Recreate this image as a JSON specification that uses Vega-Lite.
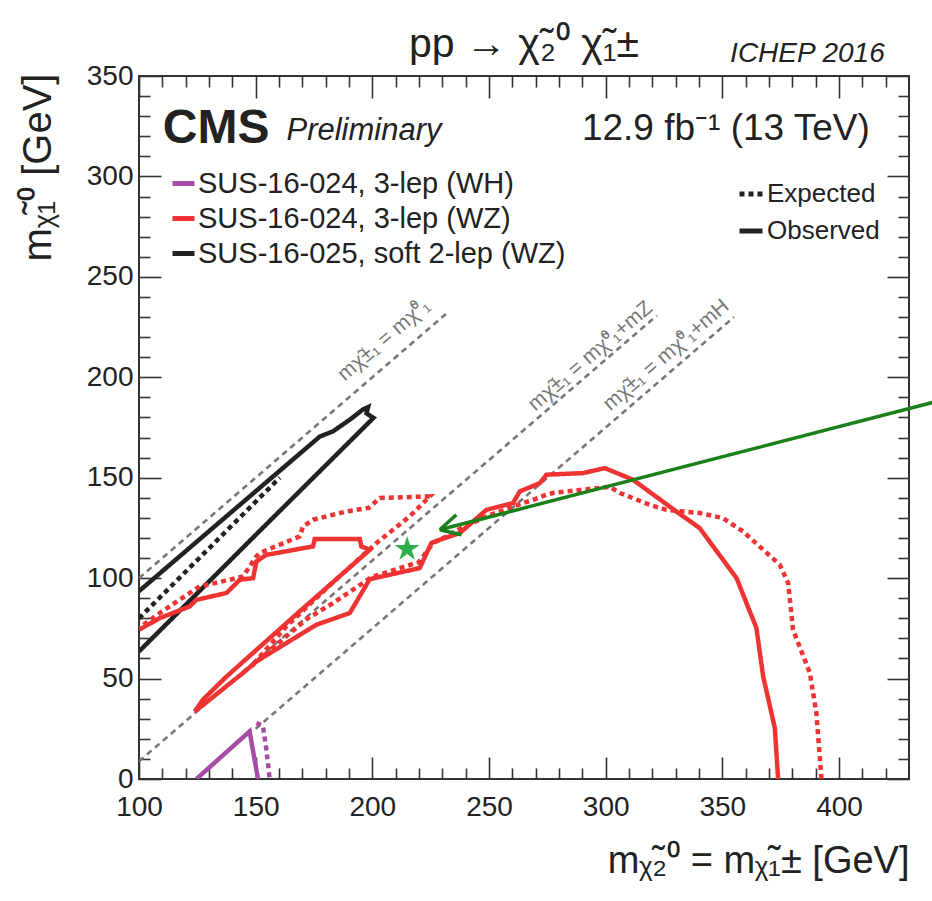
{
  "$schema": "https://vega.github.io/schema/vega-lite/v6.json",
  "width": 770,
  "height": 703,
  "autosize": {"type": "none"},
  "padding": {"left": 139, "top": 76, "right": 23, "bottom": 122},
  "background": "white",
  "config": {
    "view": {"stroke": "#333333", "strokeWidth": 2},
    "font": "Liberation Sans",
    "axis": {"grid": false, "domain": false, "labelFont": "Liberation Sans", "titleFont": "Liberation Sans", "labelColor": "#222222", "titleColor": "#222222", "tickColor": "#333333", "tickWidth": 1.6, "labelFlush": false, "labelOverlap": false},
    "legend": {"labelFont": "Liberation Sans", "labelColor": "#222222"}
  },
  "datasets": {
    "diag": [
      {"id": "eq", "x": 100, "y": 100}, {"id": "eq", "x": 232, "y": 232},
      {"id": "mz", "x": 100, "y": 8.8}, {"id": "mz", "x": 322, "y": 230.8},
      {"id": "mh", "x": 150, "y": 25}, {"id": "mh", "x": 355, "y": 230}
    ],
    "diaglabels": [
      {"text": "mχ̃±₁ = mχ̃⁰₁", "x": 205, "y": 218.5},
      {"text": "mχ̃±₁ = mχ̃⁰₁+mZ", "x": 293.5, "y": 210.5},
      {"text": "mχ̃±₁ = mχ̃⁰₁+mH", "x": 326, "y": 211}
    ],
    "curves": [
      {"id": "pu_o", "analysis": "SUS-16-024, 3-lep (WH)", "type": "Observed", "o": 1, "x": 124.6, "y": 0},
      {"id": "pu_o", "analysis": "SUS-16-024, 3-lep (WH)", "type": "Observed", "o": 2, "x": 147.4, "y": 23.7},
      {"id": "pu_o", "analysis": "SUS-16-024, 3-lep (WH)", "type": "Observed", "o": 3, "x": 151, "y": 0},
      {"id": "pu_e", "analysis": "SUS-16-024, 3-lep (WH)", "type": "Expected", "o": 1, "x": 150.3, "y": 27.9},
      {"id": "pu_e", "analysis": "SUS-16-024, 3-lep (WH)", "type": "Expected", "o": 2, "x": 153.1, "y": 26.5},
      {"id": "pu_e", "analysis": "SUS-16-024, 3-lep (WH)", "type": "Expected", "o": 3, "x": 154.6, "y": 14.6},
      {"id": "pu_e", "analysis": "SUS-16-024, 3-lep (WH)", "type": "Expected", "o": 4, "x": 156, "y": 0},

      {"id": "bk_o", "analysis": "SUS-16-025, soft 2-lep (WZ)", "type": "Observed", "o": 1, "x": 100, "y": 93.5},
      {"id": "bk_o", "analysis": "SUS-16-025, soft 2-lep (WZ)", "type": "Observed", "o": 2, "x": 140, "y": 133.3},
      {"id": "bk_o", "analysis": "SUS-16-025, soft 2-lep (WZ)", "type": "Observed", "o": 3, "x": 177.5, "y": 170.5},
      {"id": "bk_o", "analysis": "SUS-16-025, soft 2-lep (WZ)", "type": "Observed", "o": 4, "x": 183, "y": 173},
      {"id": "bk_o", "analysis": "SUS-16-025, soft 2-lep (WZ)", "type": "Observed", "o": 5, "x": 190.5, "y": 179},
      {"id": "bk_o", "analysis": "SUS-16-025, soft 2-lep (WZ)", "type": "Observed", "o": 6, "x": 196, "y": 184},
      {"id": "bk_o", "analysis": "SUS-16-025, soft 2-lep (WZ)", "type": "Observed", "o": 7, "x": 198.2, "y": 185.2},
      {"id": "bk_o", "analysis": "SUS-16-025, soft 2-lep (WZ)", "type": "Observed", "o": 8, "x": 197.5, "y": 182},
      {"id": "bk_o", "analysis": "SUS-16-025, soft 2-lep (WZ)", "type": "Observed", "o": 9, "x": 200.5, "y": 179.8},
      {"id": "bk_o", "analysis": "SUS-16-025, soft 2-lep (WZ)", "type": "Observed", "o": 10, "x": 150, "y": 121.5},
      {"id": "bk_o", "analysis": "SUS-16-025, soft 2-lep (WZ)", "type": "Observed", "o": 11, "x": 100, "y": 63.5},
      {"id": "bk_e", "analysis": "SUS-16-025, soft 2-lep (WZ)", "type": "Expected", "o": 1, "x": 100, "y": 80},
      {"id": "bk_e", "analysis": "SUS-16-025, soft 2-lep (WZ)", "type": "Expected", "o": 2, "x": 160.3, "y": 150},

      {"id": "rd_o", "analysis": "SUS-16-024, 3-lep (WZ)", "type": "Observed", "o": 1, "x": 373.9, "y": 0},
      {"id": "rd_o", "analysis": "SUS-16-024, 3-lep (WZ)", "type": "Observed", "o": 2, "x": 372.5, "y": 25.4},
      {"id": "rd_o", "analysis": "SUS-16-024, 3-lep (WZ)", "type": "Observed", "o": 3, "x": 367.5, "y": 51.1},
      {"id": "rd_o", "analysis": "SUS-16-024, 3-lep (WZ)", "type": "Observed", "o": 4, "x": 364.6, "y": 75.2},
      {"id": "rd_o", "analysis": "SUS-16-024, 3-lep (WZ)", "type": "Observed", "o": 5, "x": 356.1, "y": 100},
      {"id": "rd_o", "analysis": "SUS-16-024, 3-lep (WZ)", "type": "Observed", "o": 6, "x": 340.3, "y": 124.9},
      {"id": "rd_o", "analysis": "SUS-16-024, 3-lep (WZ)", "type": "Observed", "o": 7, "x": 330.3, "y": 133.2},
      {"id": "rd_o", "analysis": "SUS-16-024, 3-lep (WZ)", "type": "Observed", "o": 8, "x": 311.7, "y": 149},
      {"id": "rd_o", "analysis": "SUS-16-024, 3-lep (WZ)", "type": "Observed", "o": 9, "x": 299.6, "y": 154.8},
      {"id": "rd_o", "analysis": "SUS-16-024, 3-lep (WZ)", "type": "Observed", "o": 10, "x": 290.3, "y": 152.3},
      {"id": "rd_o", "analysis": "SUS-16-024, 3-lep (WZ)", "type": "Observed", "o": 11, "x": 274.6, "y": 151.5},
      {"id": "rd_o", "analysis": "SUS-16-024, 3-lep (WZ)", "type": "Observed", "o": 12, "x": 271.8, "y": 147.3},
      {"id": "rd_o", "analysis": "SUS-16-024, 3-lep (WZ)", "type": "Observed", "o": 13, "x": 263.2, "y": 143.2},
      {"id": "rd_o", "analysis": "SUS-16-024, 3-lep (WZ)", "type": "Observed", "o": 14, "x": 260.3, "y": 137.4},
      {"id": "rd_o", "analysis": "SUS-16-024, 3-lep (WZ)", "type": "Observed", "o": 15, "x": 248.9, "y": 134},
      {"id": "rd_o", "analysis": "SUS-16-024, 3-lep (WZ)", "type": "Observed", "o": 16, "x": 237.4, "y": 122.4},
      {"id": "rd_o", "analysis": "SUS-16-024, 3-lep (WZ)", "type": "Observed", "o": 17, "x": 228.9, "y": 119.1},
      {"id": "rd_o", "analysis": "SUS-16-024, 3-lep (WZ)", "type": "Observed", "o": 18, "x": 225.3, "y": 117.5},
      {"id": "rd_o", "analysis": "SUS-16-024, 3-lep (WZ)", "type": "Observed", "o": 19, "x": 220.3, "y": 105},
      {"id": "rd_o", "analysis": "SUS-16-024, 3-lep (WZ)", "type": "Observed", "o": 20, "x": 198.9, "y": 99.5},
      {"id": "rd_o", "analysis": "SUS-16-024, 3-lep (WZ)", "type": "Observed", "o": 21, "x": 190.3, "y": 82.6},
      {"id": "rd_o", "analysis": "SUS-16-024, 3-lep (WZ)", "type": "Observed", "o": 22, "x": 176, "y": 76.8},
      {"id": "rd_o", "analysis": "SUS-16-024, 3-lep (WZ)", "type": "Observed", "o": 23, "x": 163.2, "y": 67.7},
      {"id": "rd_o", "analysis": "SUS-16-024, 3-lep (WZ)", "type": "Observed", "o": 24, "x": 150.3, "y": 58.5},
      {"id": "rd_o", "analysis": "SUS-16-024, 3-lep (WZ)", "type": "Observed", "o": 25, "x": 144.6, "y": 52.8},
      {"id": "rd_o", "analysis": "SUS-16-024, 3-lep (WZ)", "type": "Observed", "o": 26, "x": 123.9, "y": 33.6},
      {"id": "rd_o", "analysis": "SUS-16-024, 3-lep (WZ)", "type": "Observed", "o": 27, "x": 127.4, "y": 39.5},
      {"id": "rd_o", "analysis": "SUS-16-024, 3-lep (WZ)", "type": "Observed", "o": 28, "x": 137.5, "y": 51},
      {"id": "rd_o", "analysis": "SUS-16-024, 3-lep (WZ)", "type": "Observed", "o": 29, "x": 168.9, "y": 83.5},
      {"id": "rd_o", "analysis": "SUS-16-024, 3-lep (WZ)", "type": "Observed", "o": 30, "x": 198.9, "y": 114.1},
      {"id": "rd_o", "analysis": "SUS-16-024, 3-lep (WZ)", "type": "Observed", "o": 31, "x": 195.3, "y": 115.8},
      {"id": "rd_o", "analysis": "SUS-16-024, 3-lep (WZ)", "type": "Observed", "o": 32, "x": 194.6, "y": 119.5},
      {"id": "rd_o", "analysis": "SUS-16-024, 3-lep (WZ)", "type": "Observed", "o": 33, "x": 175.3, "y": 119.5},
      {"id": "rd_o", "analysis": "SUS-16-024, 3-lep (WZ)", "type": "Observed", "o": 34, "x": 174.6, "y": 115.8},
      {"id": "rd_o", "analysis": "SUS-16-024, 3-lep (WZ)", "type": "Observed", "o": 35, "x": 154.6, "y": 111.6},
      {"id": "rd_o", "analysis": "SUS-16-024, 3-lep (WZ)", "type": "Observed", "o": 36, "x": 150.3, "y": 108.3},
      {"id": "rd_o", "analysis": "SUS-16-024, 3-lep (WZ)", "type": "Observed", "o": 37, "x": 148.9, "y": 100},
      {"id": "rd_o", "analysis": "SUS-16-024, 3-lep (WZ)", "type": "Observed", "o": 38, "x": 143.2, "y": 99.2},
      {"id": "rd_o", "analysis": "SUS-16-024, 3-lep (WZ)", "type": "Observed", "o": 39, "x": 137.5, "y": 92.6},
      {"id": "rd_o", "analysis": "SUS-16-024, 3-lep (WZ)", "type": "Observed", "o": 40, "x": 124.6, "y": 89.2},
      {"id": "rd_o", "analysis": "SUS-16-024, 3-lep (WZ)", "type": "Observed", "o": 41, "x": 121.7, "y": 85.9},
      {"id": "rd_o", "analysis": "SUS-16-024, 3-lep (WZ)", "type": "Observed", "o": 42, "x": 108.9, "y": 80.1},
      {"id": "rd_o", "analysis": "SUS-16-024, 3-lep (WZ)", "type": "Observed", "o": 43, "x": 100, "y": 74.3},

      {"id": "rd_e", "analysis": "SUS-16-024, 3-lep (WZ)", "type": "Expected", "o": 1, "x": 392.5, "y": 0},
      {"id": "rd_e", "analysis": "SUS-16-024, 3-lep (WZ)", "type": "Expected", "o": 2, "x": 390.3, "y": 32.9},
      {"id": "rd_e", "analysis": "SUS-16-024, 3-lep (WZ)", "type": "Expected", "o": 3, "x": 387.5, "y": 52.8},
      {"id": "rd_e", "analysis": "SUS-16-024, 3-lep (WZ)", "type": "Expected", "o": 4, "x": 380.3, "y": 74.3},
      {"id": "rd_e", "analysis": "SUS-16-024, 3-lep (WZ)", "type": "Expected", "o": 5, "x": 378.2, "y": 97.6},
      {"id": "rd_e", "analysis": "SUS-16-024, 3-lep (WZ)", "type": "Expected", "o": 6, "x": 374.6, "y": 106.7},
      {"id": "rd_e", "analysis": "SUS-16-024, 3-lep (WZ)", "type": "Expected", "o": 7, "x": 358.9, "y": 123.2},
      {"id": "rd_e", "analysis": "SUS-16-024, 3-lep (WZ)", "type": "Expected", "o": 8, "x": 350.3, "y": 129.9},
      {"id": "rd_e", "analysis": "SUS-16-024, 3-lep (WZ)", "type": "Expected", "o": 9, "x": 340.3, "y": 132.4},
      {"id": "rd_e", "analysis": "SUS-16-024, 3-lep (WZ)", "type": "Expected", "o": 10, "x": 326, "y": 134},
      {"id": "rd_e", "analysis": "SUS-16-024, 3-lep (WZ)", "type": "Expected", "o": 11, "x": 318.9, "y": 136.5},
      {"id": "rd_e", "analysis": "SUS-16-024, 3-lep (WZ)", "type": "Expected", "o": 12, "x": 306.1, "y": 142.4},
      {"id": "rd_e", "analysis": "SUS-16-024, 3-lep (WZ)", "type": "Expected", "o": 13, "x": 301.7, "y": 145.5},
      {"id": "rd_e", "analysis": "SUS-16-024, 3-lep (WZ)", "type": "Expected", "o": 14, "x": 277.4, "y": 142.4},
      {"id": "rd_e", "analysis": "SUS-16-024, 3-lep (WZ)", "type": "Expected", "o": 15, "x": 274.6, "y": 141.5},
      {"id": "rd_e", "analysis": "SUS-16-024, 3-lep (WZ)", "type": "Expected", "o": 16, "x": 268.9, "y": 139},
      {"id": "rd_e", "analysis": "SUS-16-024, 3-lep (WZ)", "type": "Expected", "o": 17, "x": 260.3, "y": 135.7},
      {"id": "rd_e", "analysis": "SUS-16-024, 3-lep (WZ)", "type": "Expected", "o": 18, "x": 248.9, "y": 130.7},
      {"id": "rd_e", "analysis": "SUS-16-024, 3-lep (WZ)", "type": "Expected", "o": 19, "x": 237.4, "y": 124.5},
      {"id": "rd_e", "analysis": "SUS-16-024, 3-lep (WZ)", "type": "Expected", "o": 20, "x": 231.8, "y": 120.8},
      {"id": "rd_e", "analysis": "SUS-16-024, 3-lep (WZ)", "type": "Expected", "o": 21, "x": 226, "y": 117.5},
      {"id": "rd_e", "analysis": "SUS-16-024, 3-lep (WZ)", "type": "Expected", "o": 22, "x": 220, "y": 108},
      {"id": "rd_e", "analysis": "SUS-16-024, 3-lep (WZ)", "type": "Expected", "o": 23, "x": 199.6, "y": 100.5},
      {"id": "rd_e", "analysis": "SUS-16-024, 3-lep (WZ)", "type": "Expected", "o": 24, "x": 194, "y": 96},
      {"id": "rd_e", "analysis": "SUS-16-024, 3-lep (WZ)", "type": "Expected", "o": 25, "x": 183, "y": 87.5},
      {"id": "rd_e", "analysis": "SUS-16-024, 3-lep (WZ)", "type": "Expected", "o": 26, "x": 171.7, "y": 79.5},
      {"id": "rd_e", "analysis": "SUS-16-024, 3-lep (WZ)", "type": "Expected", "o": 27, "x": 148, "y": 56},
      {"id": "rd_e", "analysis": "SUS-16-024, 3-lep (WZ)", "type": "Expected", "o": 28, "x": 163.2, "y": 76},
      {"id": "rd_e", "analysis": "SUS-16-024, 3-lep (WZ)", "type": "Expected", "o": 29, "x": 183.2, "y": 98},
      {"id": "rd_e", "analysis": "SUS-16-024, 3-lep (WZ)", "type": "Expected", "o": 30, "x": 201.8, "y": 117.5},
      {"id": "rd_e", "analysis": "SUS-16-024, 3-lep (WZ)", "type": "Expected", "o": 31, "x": 216, "y": 130.7},
      {"id": "rd_e", "analysis": "SUS-16-024, 3-lep (WZ)", "type": "Expected", "o": 32, "x": 224.6, "y": 140.7},
      {"id": "rd_e", "analysis": "SUS-16-024, 3-lep (WZ)", "type": "Expected", "o": 33, "x": 203.2, "y": 139.9},
      {"id": "rd_e", "analysis": "SUS-16-024, 3-lep (WZ)", "type": "Expected", "o": 34, "x": 198.5, "y": 135},
      {"id": "rd_e", "analysis": "SUS-16-024, 3-lep (WZ)", "type": "Expected", "o": 35, "x": 188.9, "y": 133.2},
      {"id": "rd_e", "analysis": "SUS-16-024, 3-lep (WZ)", "type": "Expected", "o": 36, "x": 174.6, "y": 129.1},
      {"id": "rd_e", "analysis": "SUS-16-024, 3-lep (WZ)", "type": "Expected", "o": 37, "x": 170.3, "y": 125.7},
      {"id": "rd_e", "analysis": "SUS-16-024, 3-lep (WZ)", "type": "Expected", "o": 38, "x": 168.9, "y": 120.8},
      {"id": "rd_e", "analysis": "SUS-16-024, 3-lep (WZ)", "type": "Expected", "o": 39, "x": 151.7, "y": 112.5},
      {"id": "rd_e", "analysis": "SUS-16-024, 3-lep (WZ)", "type": "Expected", "o": 40, "x": 150.3, "y": 110.8},
      {"id": "rd_e", "analysis": "SUS-16-024, 3-lep (WZ)", "type": "Expected", "o": 41, "x": 144.6, "y": 100.9},
      {"id": "rd_e", "analysis": "SUS-16-024, 3-lep (WZ)", "type": "Expected", "o": 42, "x": 138.9, "y": 99.2},
      {"id": "rd_e", "analysis": "SUS-16-024, 3-lep (WZ)", "type": "Expected", "o": 43, "x": 126, "y": 95.9},
      {"id": "rd_e", "analysis": "SUS-16-024, 3-lep (WZ)", "type": "Expected", "o": 44, "x": 108.9, "y": 82.6},
      {"id": "rd_e", "analysis": "SUS-16-024, 3-lep (WZ)", "type": "Expected", "o": 45, "x": 100, "y": 75.2}
    ],
    "arrow": [
      {"id": "shaft", "o": 1, "x": 445, "y": 188.9},
      {"id": "shaft", "o": 2, "x": 228.9, "y": 124.1},
      {"id": "head1", "o": 1, "x": 236, "y": 131.6},
      {"id": "head1", "o": 2, "x": 228.9, "y": 124.1},
      {"id": "head2", "o": 1, "x": 238.2, "y": 121.6},
      {"id": "head2", "o": 2, "x": 228.9, "y": 124.1}
    ],
    "star": [{"x": 214.9, "y": 114.5}],
    "maintitle": [{"text": "pp → χ̃₂⁰ χ̃₁±", "x": 265, "y": 359.5}],
    "cms": [{"text": "CMS", "x": 110.2, "y": 316.7}],
    "prelim": [{"text": "Preliminary", "x": 163.2, "y": 318.2}],
    "lumi": [{"text": "12.9 fb⁻¹ (13 TeV)", "x": 413.2, "y": 318.2}],
    "ichep": [{"text": "ICHEP 2016", "x": 419.6, "y": 356.8}]
  },
  "layer": [
    {
      "data": {"name": "diag"},
      "mark": {"type": "line", "color": "#777777", "strokeWidth": 2.6, "strokeDash": [6, 4.5], "clip": true},
      "encoding": {
        "x": {"field": "x", "type": "quantitative", "scale": {"domain": [100, 430], "nice": false, "zero": false},
          "axis": {"orient": "bottom", "values": [100, 150, 200, 250, 300, 350, 400], "ticks": false, "labelFontSize": 28, "labelPadding": 14,
            "title": "mᵪ̃₂⁰ = mᵪ̃₁± [GeV]", "titleFontSize": 38, "titleFontWeight": "normal", "titleAlign": "right", "titleBaseline": "alphabetic", "titleX": 770, "titleY": 93}},
        "y": {"field": "y", "type": "quantitative", "scale": {"domain": [0, 350], "nice": false, "zero": false},
          "axis": {"orient": "left", "values": [0, 50, 100, 150, 200, 250, 300, 350], "ticks": false, "labelFontSize": 28, "labelPadding": 6, "labelBaseline": "middle",
            "title": "mᵪ̃₁⁰ [GeV]", "titleFontSize": 40, "titleFontWeight": "normal", "titleAngle": 270, "titleAlign": "right", "titleBaseline": "alphabetic", "titleX": -89, "titleY": -3}},
        "detail": {"field": "id"}
      }
    },
    {
      "data": {"name": "curves"},
      "mark": {"type": "line", "strokeWidth": 4.5, "strokeCap": "butt", "clip": true},
      "encoding": {
        "x": {"field": "x", "type": "quantitative", "scale": {"domain": [100, 430], "nice": false, "zero": false},
          "axis": {"orient": "bottom", "values": [100, 150, 200, 250, 300, 350, 400], "labels": false, "tickSize": -22, "title": null}},
        "y": {"field": "y", "type": "quantitative", "scale": {"domain": [0, 350], "nice": false, "zero": false},
          "axis": {"orient": "left", "values": [0, 50, 100, 150, 200, 250, 300, 350], "labels": false, "tickSize": -22, "title": null}},
        "color": {"field": "analysis", "type": "nominal",
          "scale": {"domain": ["SUS-16-024, 3-lep (WH)", "SUS-16-024, 3-lep (WZ)", "SUS-16-025, soft 2-lep (WZ)"], "range": ["#a64ca6", "#ee3333", "#222222"]},
          "legend": {"orient": "none", "legendX": 30, "legendY": 93, "title": null, "symbolType": "stroke", "symbolSize": 484, "symbolStrokeWidth": 5, "labelFontSize": 29, "labelOffset": 0, "rowPadding": 5, "padding": 0, "labelLimit": 0}},
        "strokeDash": {"field": "type", "type": "nominal",
          "scale": {"domain": ["Expected", "Observed"], "range": [[5, 4], [1, 0]]},
          "legend": {"orient": "none", "legendX": 598, "legendY": 104, "title": null, "symbolType": "stroke", "symbolSize": 529, "symbolStrokeWidth": 5, "symbolStrokeColor": "#222222", "labelFontSize": 26, "labelOffset": 2, "rowPadding": 10, "padding": 0, "labelLimit": 0}},
        "detail": {"field": "id"},
        "order": {"field": "o", "type": "quantitative"}
      }
    },
    {
      "data": {"name": "arrow"},
      "mark": {"type": "line", "color": "#1a801a", "strokeWidth": 3.5, "clip": false},
      "encoding": {
        "x": {"field": "x", "type": "quantitative", "scale": {"domain": [100, 430], "nice": false, "zero": false},
          "axis": {"orient": "bottom", "values": [110, 120, 130, 140, 160, 170, 180, 190, 210, 220, 230, 240, 260, 270, 280, 290, 310, 320, 330, 340, 360, 370, 380, 390, 410, 420], "labels": false, "tickSize": -11, "title": null}},
        "y": {"field": "y", "type": "quantitative", "scale": {"domain": [0, 350], "nice": false, "zero": false},
          "axis": {"orient": "left", "values": [10, 20, 30, 40, 60, 70, 80, 90, 110, 120, 130, 140, 160, 170, 180, 190, 210, 220, 230, 240, 260, 270, 280, 290, 310, 320, 330, 340], "labels": false, "tickSize": -11, "title": null}},
        "detail": {"field": "id"},
        "order": {"field": "o", "type": "quantitative"}
      }
    },
    {
      "data": {"name": "star"},
      "mark": {"type": "point", "shape": "M0,-1L0.2245,-0.309L0.951,-0.309L0.363,0.118L0.588,0.809L0,0.382L-0.588,0.809L-0.363,0.118L-0.951,-0.309L-0.2245,-0.309Z", "filled": true, "color": "#2db04b", "opacity": 1, "size": 690, "strokeWidth": 0},
      "encoding": {
        "x": {"field": "x", "type": "quantitative", "scale": {"domain": [100, 430], "nice": false, "zero": false},
          "axis": {"orient": "top", "values": [100, 150, 200, 250, 300, 350, 400], "labels": false, "tickSize": -22, "title": null}},
        "y": {"field": "y", "type": "quantitative", "scale": {"domain": [0, 350], "nice": false, "zero": false},
          "axis": {"orient": "right", "values": [0, 50, 100, 150, 200, 250, 300, 350], "labels": false, "tickSize": -22, "title": null}}
      }
    },
    {
      "data": {"name": "diaglabels"},
      "mark": {"type": "text", "angle": 319.3, "fontSize": 21, "color": "#777777", "font": "Liberation Sans", "align": "center", "baseline": "middle"},
      "encoding": {
        "x": {"field": "x", "type": "quantitative", "scale": {"domain": [100, 430], "nice": false, "zero": false},
          "axis": {"orient": "top", "values": [110, 120, 130, 140, 160, 170, 180, 190, 210, 220, 230, 240, 260, 270, 280, 290, 310, 320, 330, 340, 360, 370, 380, 390, 410, 420], "labels": false, "tickSize": -11, "title": null}},
        "y": {"field": "y", "type": "quantitative", "scale": {"domain": [0, 350], "nice": false, "zero": false},
          "axis": {"orient": "right", "values": [10, 20, 30, 40, 60, 70, 80, 90, 110, 120, 130, 140, 160, 170, 180, 190, 210, 220, 230, 240, 260, 270, 280, 290, 310, 320, 330, 340], "labels": false, "tickSize": -11, "title": null}},
        "text": {"field": "text"}
      }
    },
    {
      "data": {"name": "maintitle"},
      "mark": {"type": "text", "fontSize": 41, "color": "#222222", "font": "Liberation Sans", "align": "center", "baseline": "alphabetic", "clip": false},
      "encoding": {
        "x": {"field": "x", "type": "quantitative", "scale": {"domain": [100, 430], "nice": false, "zero": false}, "axis": null},
        "y": {"field": "y", "type": "quantitative", "scale": {"domain": [0, 350], "nice": false, "zero": false}, "axis": null},
        "text": {"field": "text"}
      }
    },
    {
      "data": {"name": "cms"},
      "mark": {"type": "text", "fontSize": 48, "fontWeight": "bold", "color": "#222222", "font": "Liberation Sans", "align": "left", "baseline": "alphabetic"},
      "encoding": {
        "x": {"field": "x", "type": "quantitative", "scale": {"domain": [100, 430], "nice": false, "zero": false}, "axis": null},
        "y": {"field": "y", "type": "quantitative", "scale": {"domain": [0, 350], "nice": false, "zero": false}, "axis": null},
        "text": {"field": "text"}
      }
    },
    {
      "data": {"name": "prelim"},
      "mark": {"type": "text", "fontSize": 31, "fontStyle": "italic", "color": "#222222", "font": "Liberation Sans", "align": "left", "baseline": "alphabetic"},
      "encoding": {
        "x": {"field": "x", "type": "quantitative", "scale": {"domain": [100, 430], "nice": false, "zero": false}, "axis": null},
        "y": {"field": "y", "type": "quantitative", "scale": {"domain": [0, 350], "nice": false, "zero": false}, "axis": null},
        "text": {"field": "text"}
      }
    },
    {
      "data": {"name": "lumi"},
      "mark": {"type": "text", "fontSize": 37, "color": "#222222", "font": "Liberation Sans", "align": "right", "baseline": "alphabetic"},
      "encoding": {
        "x": {"field": "x", "type": "quantitative", "scale": {"domain": [100, 430], "nice": false, "zero": false}, "axis": null},
        "y": {"field": "y", "type": "quantitative", "scale": {"domain": [0, 350], "nice": false, "zero": false}, "axis": null},
        "text": {"field": "text"}
      }
    },
    {
      "data": {"name": "ichep"},
      "mark": {"type": "text", "fontSize": 28, "fontStyle": "italic", "color": "#222222", "font": "Liberation Sans", "align": "right", "baseline": "alphabetic"},
      "encoding": {
        "x": {"field": "x", "type": "quantitative", "scale": {"domain": [100, 430], "nice": false, "zero": false}, "axis": null},
        "y": {"field": "y", "type": "quantitative", "scale": {"domain": [0, 350], "nice": false, "zero": false}, "axis": null},
        "text": {"field": "text"}
      }
    }
  ],
  "resolve": {"axis": {"x": "independent", "y": "independent"}}
}
